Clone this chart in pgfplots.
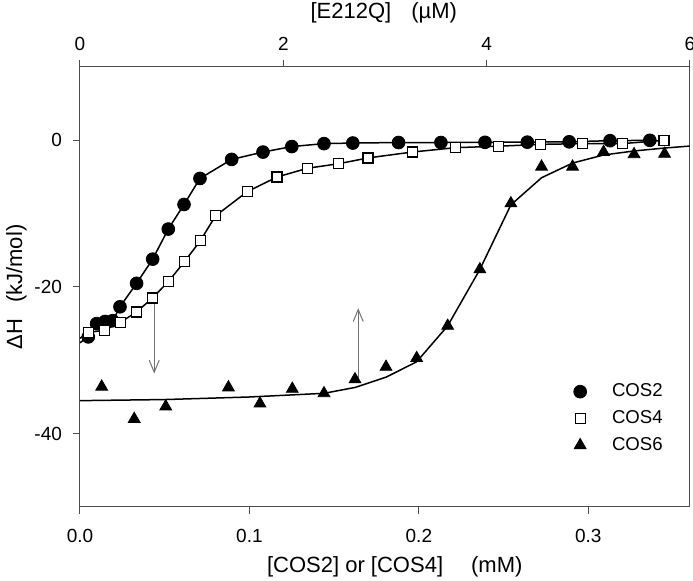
\documentclass[border=0pt]{standalone}
\usepackage{fontspec}
\setmainfont{Liberation Sans}
\usepackage{pgfplots}
\pgfplotsset{compat=1.18}
\usetikzlibrary{arrows.meta}

\begin{document}
\begin{tikzpicture}
\begin{axis}[
  at={(0,0)}, anchor=south west,
  scale only axis, width=305pt, height=220pt,
  xmin=0, xmax=0.36, ymin=-50, ymax=10,
  xtick={0,0.1,0.2,0.3}, ytick={-40,-20,0},
  xtick pos=left, ytick pos=left,
  tick align=outside, major tick length=3.5pt,
  axis line style={black!70, line width=0.5pt},
  every tick/.style={black!70, line width=0.5pt},
  scaled x ticks=false,
  /pgf/number format/assume math mode=true,
  xticklabel style={/pgf/number format/fixed, /pgf/number format/fixed zerofill,
    /pgf/number format/precision=1, font=\fontsize{9.5}{11}\selectfont, yshift=-4pt},
  yticklabel style={font=\fontsize{9.5}{11}\selectfont, xshift=-2pt},
  every axis x label/.style={at={(axis description cs:0.516,-0.1364)}, anchor=center,
    font=\fontsize{11}{13}\selectfont},
  every axis y label/.style={at={(axis description cs:-0.104,0.5)}, anchor=center, rotate=90,
    font=\fontsize{11}{13}\selectfont},
  xlabel={[COS2] or [COS4]\hspace{14pt}(mM)},
  ylabel={ΔH\hspace{8pt}(kJ/mol)},
  legend style={at={(axis description cs:0.800,0.288)}, anchor=north west,
    draw=none, fill=none, inner sep=0pt, row sep=2.4pt,
    nodes={inner sep=1.5pt}, font=\fontsize{9.3}{11}\selectfont},
  legend cell align=left,
  legend image code/.code={\path (-0.2cm,0) (0.5cm,0); \draw[#1] plot coordinates {(0cm,0cm)};},
]
% fitted lines
\addplot[black, line width=0.75pt, forget plot] coordinates {
(0,-27.6) (0.0049,-26.8) (0.0098,-25.0) (0.0148,-24.7) (0.0193,-24.6) (0.0236,-22.7)
(0.0334,-19.5) (0.0429,-16.2) (0.0521,-12.1) (0.0614,-8.75) (0.0708,-5.2) (0.0895,-2.6)
(0.108,-1.6) (0.125,-0.85) (0.144,-0.45) (0.161,-0.37) (0.188,-0.3) (0.213,-0.3)
(0.239,-0.27) (0.264,-0.25) (0.2887,-0.2) (0.3128,-0.05) (0.3363,0)};
\addplot[black, line width=0.75pt, forget plot] coordinates {
(0,-27.0) (0.0049,-26.2) (0.0143,-25.9) (0.024,-24.8) (0.0334,-23.4) (0.0428,-21.5)
(0.0524,-19.2) (0.0618,-16.5) (0.071,-13.7) (0.080,-10.3) (0.0987,-7.0) (0.1163,-5.0)
(0.1344,-3.8) (0.1524,-3.2) (0.170,-2.4) (0.196,-1.6) (0.2217,-1.0) (0.247,-0.8)
(0.272,-0.55) (0.2964,-0.45) (0.320,-0.45) (0.3447,0)};
\addplot[black, line width=0.75pt, forget plot] coordinates {
(0,-35.5) (0.05,-35.35) (0.1,-35.0) (0.144,-34.5) (0.1623,-33.7) (0.1806,-32.3)
(0.1987,-30.2) (0.217,-25.3) (0.236,-17.6) (0.2543,-8.8) (0.2724,-5.1) (0.2907,-3.1)
(0.309,-2.0) (0.327,-1.45) (0.345,-1.05) (0.36,-0.78)};
% data
\addplot[only marks, mark=*, mark size=3.2pt, mark options={fill=black, draw=black}] coordinates {
(0.0049,-26.8) (0.0098,-25.0) (0.0148,-24.7) (0.0193,-24.6) (0.0236,-22.7)
(0.0334,-19.5) (0.0429,-16.2) (0.0521,-12.1) (0.0614,-8.75) (0.0708,-5.2) (0.0895,-2.6)
(0.108,-1.6) (0.125,-0.85) (0.144,-0.45) (0.161,-0.37) (0.188,-0.3) (0.213,-0.3)
(0.239,-0.27) (0.264,-0.25) (0.2887,-0.2) (0.3128,-0.05) (0.3363,0)};
\addlegendentry{COS2}
\addplot[only marks, mark=square*, mark size=2.5pt, mark options={fill=white, draw=black, line width=0.6pt}] coordinates {
(0.0049,-26.2) (0.0143,-25.9) (0.024,-24.8) (0.0334,-23.4) (0.0428,-21.5)
(0.0524,-19.2) (0.0618,-16.5) (0.071,-13.7) (0.080,-10.3) (0.0987,-7.0) (0.1163,-5.0)
(0.1344,-3.8) (0.1524,-3.2) (0.170,-2.4) (0.196,-1.6) (0.2217,-1.0) (0.247,-0.8)
(0.272,-0.55) (0.2964,-0.45) (0.320,-0.45) (0.3447,0)};
\addlegendentry{COS4}
\addplot[only marks, mark=triangle*, mark size=3.4pt, mark options={fill=black, draw=black}] coordinates {
(0.0128,-33.6) (0.032,-38.0) (0.0506,-36.3) (0.0876,-33.7) (0.1062,-35.9) (0.1253,-33.9)
(0.144,-34.5) (0.1623,-32.6) (0.1806,-30.9) (0.1987,-29.7) (0.217,-25.3) (0.236,-17.6)
(0.2543,-8.6) (0.2724,-3.6) (0.2907,-3.6) (0.309,-1.6) (0.327,-1.9) (0.345,-1.85)};
\addlegendentry{COS6}
% arrows
\draw[black!55, line width=0.5pt, -{Straight Barb[length=6pt,width=5pt]}] (axis cs:0.0438,-21.8) -- (axis cs:0.0438,-31.8);
\draw[black!55, line width=0.5pt, -{Straight Barb[length=6pt,width=5pt]}] (axis cs:0.1642,-32.7) -- (axis cs:0.1642,-22.9);
\end{axis}
\begin{axis}[
  at={(0,0)}, anchor=south west,
  scale only axis, width=305pt, height=220pt,
  xmin=0, xmax=6, ymin=-50, ymax=10,
  axis x line*=top, axis y line=none,
  x axis line style={-, black!70, line width=0.5pt},
  every tick/.style={black!70, line width=0.5pt},
  xtick={0,2,4,6}, tick align=outside, major tick length=3.5pt,
  /pgf/number format/assume math mode=true,
  xticklabel style={font=\fontsize{9.5}{11}\selectfont, yshift=1pt},
  every axis x label/.style={at={(axis description cs:0.498,1.1227)}, anchor=center,
    font=\fontsize{11}{13}\selectfont},
  xlabel={[E212Q]\hspace{10pt}(µM)},
]
\addplot[draw=none, forget plot] coordinates {(0,0)};
\end{axis}
\pgfresetboundingbox
\path[use as bounding box] (-40pt,-37pt) rectangle (306.5pt,253.5pt);
\end{tikzpicture}
\end{document}
